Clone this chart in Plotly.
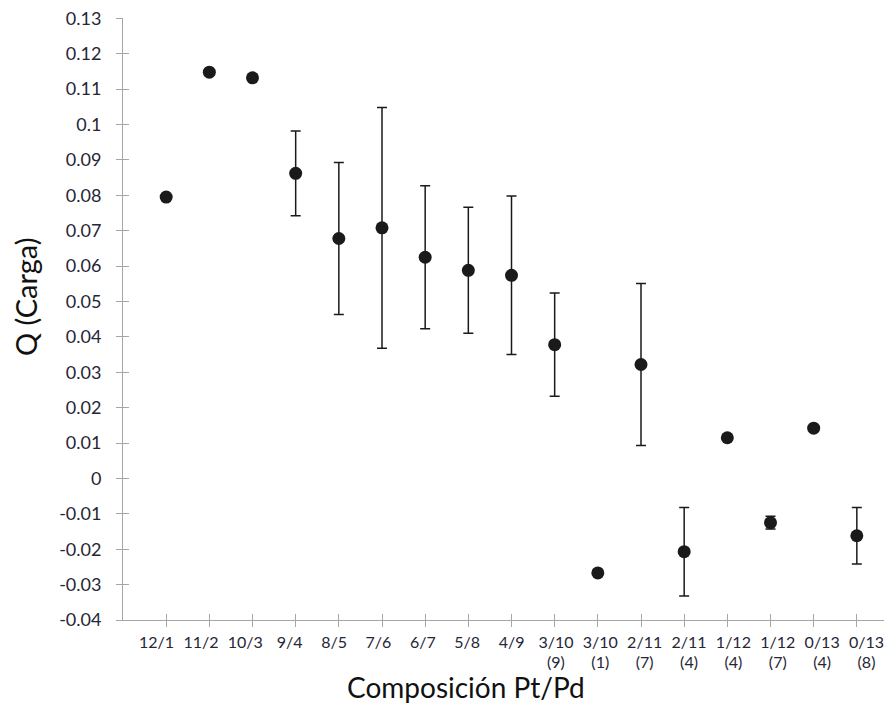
import plotly.graph_objects as go

categories_top = ["12/1", "11/2", "10/3", "9/4", "8/5", "7/6", "6/7", "5/8", "4/9",
                  "3/10", "3/10", "2/11", "2/11", "1/12", "1/12", "0/13", "0/13"]
categories_sub = ["", "", "", "", "", "", "", "", "",
                  "(9)", "(1)", "(7)", "(4)", "(4)", "(7)", "(4)", "(8)"]
q_values = [0.0795, 0.1148, 0.1132, 0.0862, 0.0678, 0.0708, 0.0625, 0.0588, 0.0574,
            0.0378, -0.0267, 0.0322, -0.0207, 0.0115, -0.0125, 0.0142, -0.0162]
q_errors = [None, None, None, 0.0120, 0.0215, 0.0340, 0.0202, 0.0178, 0.0224,
            0.0146, None, 0.0229, 0.0125, None, 0.0018, None, 0.0080]
y_ticks = [round(-0.04 + 0.01 * i, 2) for i in range(18)]
y_ticktext = ["0" if abs(v) < 1e-9 else ("%g" % v) for v in y_ticks]

positions = list(range(1, len(categories_top) + 1))

FONT = "Lato, 'Open Sans', sans-serif"
AXIS_COLOR = "#a6a6a6"
TEXT_COLOR = "#262636"

fig = go.Figure()
fig.add_trace(go.Scatter(
    x=positions, y=q_values, mode="markers",
    marker=dict(size=13, color="#1a1a1a"),
    error_y=dict(type="data", array=q_errors, visible=True,
                 color="#1a1a1a", thickness=1.5, width=5),
    showlegend=False, hoverinfo="y",
))
# invisible traces bound to overlay axes (crossing tick marks, label rows)
for xa, ya in [("x2", "y2"), ("x3", "y"), ("x4", "y")]:
    fig.add_trace(go.Scatter(x=[None], y=[None], xaxis=xa, yaxis=ya,
                             showlegend=False, hoverinfo="skip"))

x_range = [0, 18]
label_range = [0.243, 17.755]
y_range = [-0.04, 0.1301]

common_off = dict(showgrid=False, zeroline=False, fixedrange=True)

fig.update_layout(
    width=892, height=705,
    margin=dict(l=115, r=0, t=10, b=93),
    paper_bgcolor="white", plot_bgcolor="white",
    font=dict(family=FONT, color=TEXT_COLOR),
    xaxis=dict(
        range=x_range, tickmode="array", tickvals=positions,
        showticklabels=False, showline=True, linecolor=AXIS_COLOR, linewidth=1,
        ticks="outside", ticklen=6, tickcolor=AXIS_COLOR, tickwidth=1, **common_off,
    ),
    yaxis=dict(
        range=y_range, tickmode="array", tickvals=y_ticks, ticktext=y_ticktext,
        showline=True, linecolor=AXIS_COLOR, linewidth=1,
        ticks="outside", ticklen=6, tickcolor=AXIS_COLOR, tickwidth=1,
        tickfont=dict(size=18, color=TEXT_COLOR, family=FONT),
        ticklabelstandoff=11, ticklabeloverflow="allow", **common_off,
    ),
    xaxis2=dict(
        range=x_range, overlaying="x", tickmode="array", tickvals=positions,
        showticklabels=False, showline=False,
        ticks="inside", ticklen=6, tickcolor=AXIS_COLOR, tickwidth=1, **common_off,
    ),
    yaxis2=dict(
        range=y_range, overlaying="y", tickmode="array", tickvals=y_ticks,
        showticklabels=False, showline=False,
        ticks="inside", ticklen=6, tickcolor=AXIS_COLOR, tickwidth=1, **common_off,
    ),
    xaxis3=dict(
        range=label_range, overlaying="x", anchor="y", side="bottom",
        tickmode="array", tickvals=positions, ticktext=categories_top,
        tickfont=dict(size=16, color=TEXT_COLOR, family=FONT),
        ticks="", showline=False, ticklabelstandoff=11, **common_off,
    ),
    xaxis4=dict(
        range=label_range, overlaying="x", anchor="y", side="bottom",
        tickmode="array", tickvals=positions, ticktext=categories_sub,
        tickfont=dict(size=16, color=TEXT_COLOR, family=FONT),
        ticks="", showline=False, ticklabelstandoff=31, **common_off,
    ),
    annotations=[
        dict(text="Q (Carga)", textangle=-90, xref="paper", yref="paper",
             x=-0.1261, y=0.5365, xanchor="center", yanchor="middle", showarrow=False,
             font=dict(size=29, color="#111111", family=FONT)),
        dict(text="Composición Pt/Pd", xref="paper", yref="paper",
             x=0.4414, y=-0.1113, xanchor="center", yanchor="middle", showarrow=False,
             font=dict(size=28, color="#111111", family=FONT)),
    ],
)

fig.write_html("out.html")
